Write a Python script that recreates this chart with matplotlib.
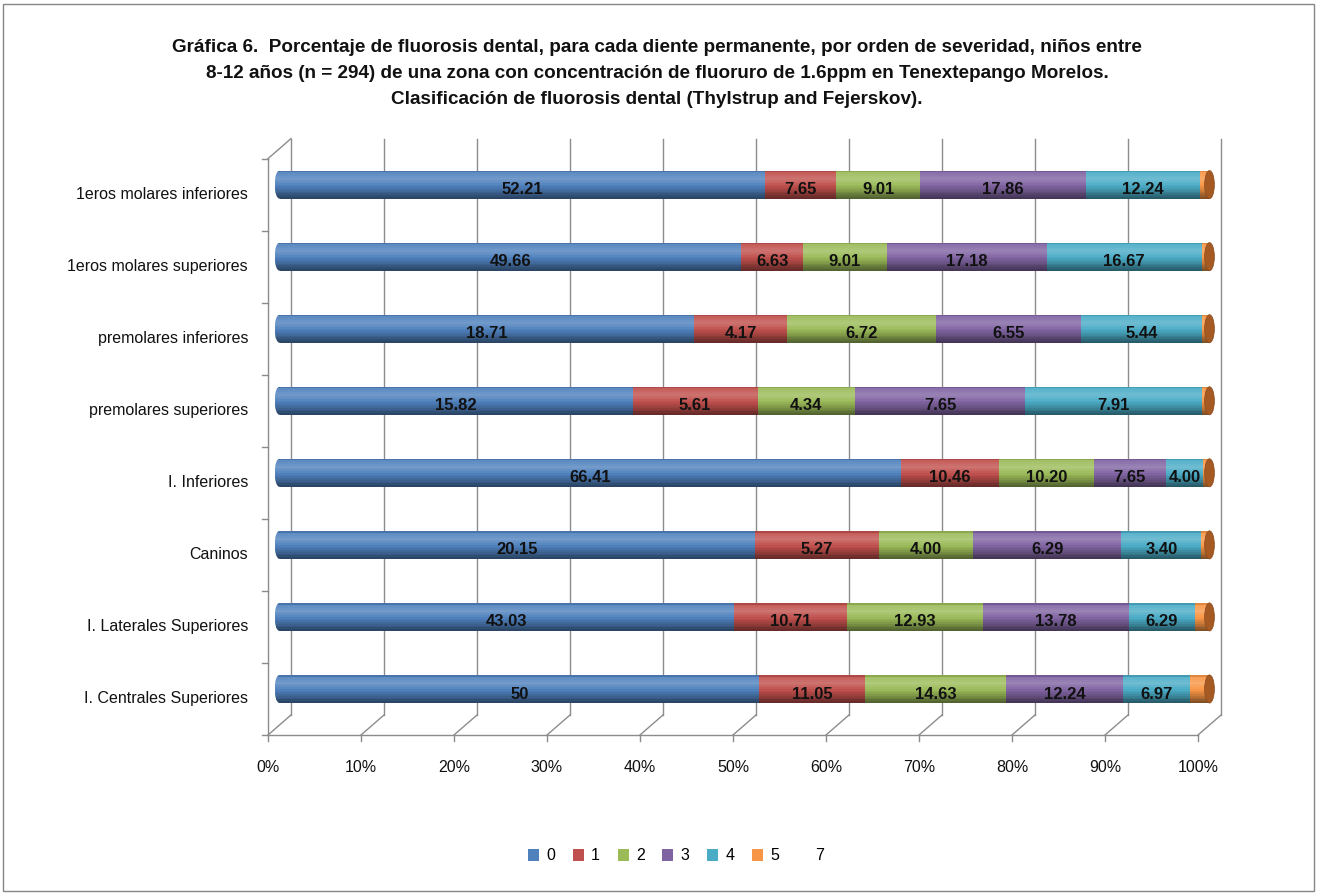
import numpy as np
import matplotlib
matplotlib.use("Agg")
import matplotlib.pyplot as plt
from matplotlib.patches import Ellipse, Rectangle, Patch
from matplotlib.transforms import offset_copy
from matplotlib.colors import to_rgb

plt.rcParams["font.family"] = ["Liberation Sans", "DejaVu Sans"]

# ── Data (rows bottom to top, as printed) ─────────────────────────────────────
categories = ["I. Centrales Superiores", "I. Laterales Superiores", "Caninos",
              "I. Inferiores", "premolares superiores", "premolares inferiores",
              "1eros molares superiores", "1eros molares inferiores"]
sev0 = ["50", "43.03", "20.15", "66.41", "15.82", "18.71", "49.66", "52.21"]
sev1 = ["11.05", "10.71", "5.27", "10.46", "5.61", "4.17", "6.63", "7.65"]
sev2 = ["14.63", "12.93", "4.00", "10.20", "4.34", "6.72", "9.01", "9.01"]
sev3 = ["12.24", "13.78", "6.29", "7.65", "7.65", "6.55", "17.18", "17.86"]
sev4 = ["6.97", "6.29", "3.40", "4.00", "7.91", "5.44", "16.67", "12.24"]
sev5 = [2.04, 1.36, 0.34, 0.68, 0.34, 0.34, 0.85, 1.03]   # unlabeled slivers
sev7 = [0, 0, 0, 0, 0, 0, 0, 0]
series_names = ["0", "1", "2", "3", "4", "5", "7"]
colors = ["#4F81BD", "#C0504D", "#9BBB59", "#8064A2", "#4BACC6", "#F79646", "#2C4D75"]

labeled = [sev0, sev1, sev2, sev3, sev4]
values = np.array([[float(v) for v in s] for s in labeled] + [sev5, sev7], dtype=float)
pct = values / values.sum(axis=0) * 100

# ── Helpers ───────────────────────────────────────────────────────────────────
def shade(color, t):
    """cylinder-ish shading; t = 0 top .. 1 bottom"""
    prof = np.interp(t, [0, 0.08, 0.3, 0.6, 1.0], [0.8, 1.05, 1.15, 0.95, 0.5])
    c = np.array(to_rgb(color))
    if prof >= 1:
        return c + (1 - c) * (prof - 1) * 1.4
    return c * prof

N_STRIP = 16
BAR_H = 0.39
GRID = "#8c8c8c"

fig = plt.figure(figsize=(13.17, 8.93), dpi=100)
W, H = 1317, 893
x0, x1 = 279.5, 1209.5
ytop, ybot = 148.6, 725.0
ax = fig.add_axes([x0 / W, (H - ybot) / H, (x1 - x0) / W, (ybot - ytop) / H])
ax.set_xlim(0, 100)
ax.set_ylim(-0.5, len(categories) - 0.5)
ax.axis("off")

back = offset_copy(ax.transData, fig=fig, x=11.5, y=10, units="dots")
front = offset_copy(ax.transData, fig=fig, x=-11.5, y=-10, units="dots")
ny = len(categories)

# back wall grid + walls
for i in range(11):
    xv = i * 10
    ax.plot([xv, xv], [-0.5, ny - 0.5], color=GRID, lw=1, transform=back,
            clip_on=False, zorder=0.5)
    # floor diagonals
    p_back = back.transform((xv, -0.5))
    p_front = front.transform((xv, -0.5))
    fig.add_artist(plt.Line2D([p_back[0] / W, p_front[0] / W],
                              [p_back[1] / H, p_front[1] / H], color=GRID, lw=1))
    # front tick + label
    pf = front.transform((xv, -0.5))
    fig.add_artist(plt.Line2D([pf[0] / W, pf[0] / W], [pf[1] / H, (pf[1] - 6) / H],
                              color=GRID, lw=1))
    fig.text(pf[0] / W, (pf[1] - 33) / H, f"{xv}%", ha="center", va="center",
             fontsize=11.5, color="#111111")

# front floor line, left wall
ax.plot([0, 100], [-0.5, -0.5], color=GRID, lw=1, transform=front, clip_on=False)
ax.plot([0, 0], [-0.5, ny - 0.5], color=GRID, lw=1, transform=front, clip_on=False)
pt_b = back.transform((0, ny - 0.5))
pt_f = front.transform((0, ny - 0.5))
fig.add_artist(plt.Line2D([pt_b[0] / W, pt_f[0] / W], [pt_b[1] / H, pt_f[1] / H],
                          color=GRID, lw=1))

# category ticks & labels on the front left wall
for k in range(ny + 1):
    p = front.transform((0, k - 0.5))
    fig.add_artist(plt.Line2D([(p[0] - 6) / W, p[0] / W], [p[1] / H, p[1] / H],
                              color=GRID, lw=1))
for k, name in enumerate(categories):
    p = front.transform((0, k))
    fig.text((p[0] - 20) / W, p[1] / H, name, ha="right", va="center",
             fontsize=11.5, color="#111111")

# ── Bars ──────────────────────────────────────────────────────────────────────
ts = (np.arange(N_STRIP) + 0.5) / N_STRIP
sh = BAR_H / N_STRIP
cap_w = 1.05
for k in range(ny):
    left = 0.0
    # rounded left end
    ell = Ellipse((0, k), cap_w, BAR_H, transform=ax.transData)
    for t in ts:
        yy = k + BAR_H / 2 - (t * BAR_H)
        r = ax.barh(yy, cap_w / 2 + 0.05, left=-cap_w / 2, height=sh * 1.05,
                    color=shade(colors[0], t), lw=0, align="center", zorder=2)
        r[0].set_clip_box(None)
        r[0].set_clip_path(ell)
    for s in range(len(series_names)):
        w = pct[s, k]
        if w <= 0:
            continue
        for t in ts:
            yy = k + BAR_H / 2 - (t * BAR_H)
            ax.barh(yy, w, left=left, height=sh * 1.05, color=shade(colors[s], t),
                    lw=0, align="center", zorder=2)
        if s < len(labeled):
            ax.text(left + w / 2, k - 0.07, labeled[s][k], ha="center", va="center",
                    fontsize=12, fontweight="bold", color="#111111", zorder=5)
        left += w
    # right end face
    ax.add_patch(Ellipse((left, k), cap_w, BAR_H, facecolor="#A55A23",
                         edgecolor="#8a4a1c", lw=0.5, zorder=4, clip_on=False))

# ── Title, legend, frame ──────────────────────────────────────────────────────
title_lines = [
    "Gráfica 6.  Porcentaje de fluorosis dental, para cada diente permanente, por orden de severidad, niños entre",
    "8-12 años (n = 294) de una zona con concentración de fluoruro de 1.6ppm en Tenextepango Morelos.",
    "Clasificación de fluorosis dental (Thylstrup and Fejerskov).",
]
for ty, line in zip([47, 73, 100], title_lines):
    fig.text(657 / W, 1 - ty / H, line, ha="center", va="center",
             fontsize=13.6, fontweight="bold", color="#111111")

handles = [Patch(facecolor=c, edgecolor="none") for c in colors[:6]]
handles.append(Patch(facecolor="none", edgecolor="none"))
fig.legend(handles, series_names, loc="center", bbox_to_anchor=(676 / W, 1 - 856 / H),
           ncol=7, frameon=False, fontsize=11.5, handlelength=0.7, handleheight=0.7,
           handletextpad=0.45, columnspacing=1.1)

fig.add_artist(Rectangle((2.5 / W, 2.5 / H), 1311 / W, 887 / H, transform=fig.transFigure,
                         facecolor="none", edgecolor="#868686", lw=1))

fig.savefig("out.png", dpi=100)
